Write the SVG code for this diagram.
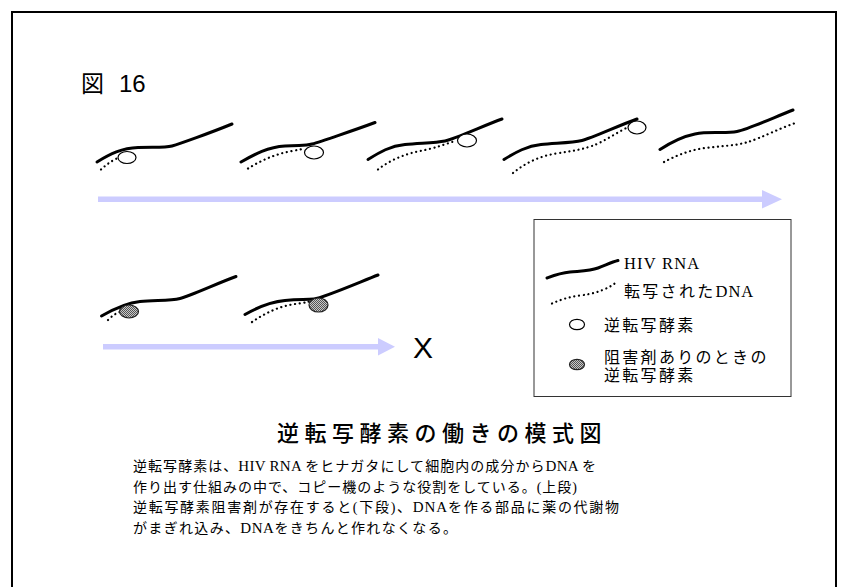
<svg xmlns="http://www.w3.org/2000/svg" width="848" height="587" viewBox="0 0 848 587">
  <defs>
    <!-- fine checker used for the inhibited enzyme -->
    <pattern id="checker" width="2" height="2" patternUnits="userSpaceOnUse">
      <rect width="2" height="2" fill="#c8c8c8"/>
      <rect width="1" height="1" fill="#555"/>
      <rect x="1" y="1" width="1" height="1" fill="#555"/>
    </pattern>
  </defs>
  <style>
    .rna { fill: none; stroke: #000; stroke-width: 3; stroke-linecap: round; }
    .dna { fill: none; stroke: #000; stroke-width: 2.2; stroke-dasharray: 0.1 4.6; stroke-linecap: round; }
    .enz { fill: #fff; stroke: #000; stroke-width: 1.2; }
    .inh { fill: url(#checker); stroke: #222; stroke-width: 1.2; }
    .flow { fill: #ccccff; }
    .jp { font-family: "Liberation Serif", "Noto Sans CJK JP", serif; font-size: 16px; letter-spacing: 2.3px; fill: #000; }
    .lat { font-size: 16.5px; letter-spacing: 1px; }
    .body { font-family: "Liberation Serif", "Noto Sans CJK JP", serif; font-size: 14px; letter-spacing: 1px; fill: #000; }
    .body .lat { font-size: 15px; letter-spacing: 0.2px; }
    .title { font-family: "Noto Sans CJK JP", sans-serif; font-size: 22px; letter-spacing: 5.5px; font-weight: 500; fill: #000; }
    .sans { font-family: "Liberation Sans", "Noto Sans CJK JP", sans-serif; fill: #000; }
  </style>

  <rect width="848" height="587" fill="#fff"/>
  <!-- page frame -->
  <path d="M12,600 V12 H836 V600" fill="none" stroke="#000" stroke-width="2"/>

  <!-- figure number -->
  <text x="81" y="92" class="sans" style="font-size:23px">図</text>
  <text x="119" y="92" class="sans" style="font-size:24px">16</text>

  <!-- upper row: normal reverse transcription, stage by stage -->
  <g id="stage1">
    <path class="dna" d="M101,169.5 C106,165 111,161 118,158"/>
    <path class="rna" d="M97,162 C110,154 122,148 138,147.5 S165,148 172,146 S210,133 232,124"/>
    <ellipse class="enz" cx="127" cy="157.5" rx="9" ry="6"/>
  </g>
  <g id="stage2">
    <path class="dna" d="M248,168.5 C260,161 275,154 292,151 S300,149 305,148"/>
    <path class="rna" d="M241,162 C255,154 268,147 285,146 S305,146 312,144 S355,130 375,122.5"/>
    <ellipse class="enz" cx="314" cy="152.5" rx="9.5" ry="6.5"/>
  </g>
  <g id="stage3">
    <path class="dna" d="M378,169.5 C390,160 405,154 420,151 S440,146 455,141"/>
    <path class="rna" d="M368,159.5 C380,152 390,146 405,144.5 S435,143 445,141 S485,125 502,119"/>
    <ellipse class="enz" cx="467" cy="140.5" rx="9.5" ry="6.5"/>
  </g>
  <g id="stage4">
    <path class="dna" d="M513,173 C525,163 540,156 556,153.5 S580,150 592,146 S620,130 633,125"/>
    <path class="rna" d="M504,159.5 C516,152 527,146 541,144.5 S572,143 582,140.5 S620,125 637,119"/>
    <ellipse class="enz" cx="637" cy="127.5" rx="9" ry="6.5"/>
  </g>
  <g id="stage5">
    <path class="dna" d="M664,162 C675,156 690,150 705,148 S735,146 748,142 S780,128 797,122.5"/>
    <path class="rna" d="M660,149.5 C670,143 680,137 695,134 S725,134 737,131.5 S775,117 793,110"/>
  </g>

  <!-- lower row: with inhibitor -->
  <g id="inhibited1">
    <path class="dna" d="M108,320 C112,316 116,313 121,311.5"/>
    <path class="rna" d="M101.5,316 C112,310 125,303 140,301.5 S170,301 180,298.5 S218,283 236,276.5"/>
    <ellipse class="inh" cx="129" cy="311.5" rx="9.5" ry="6.5"/>
  </g>
  <g id="inhibited2">
    <path class="dna" d="M252,322 C265,313 280,306 295,304 S305,302 310,301.5"/>
    <path class="rna" d="M245,314.5 C258,307 270,302 285,300.5 S305,300 314,299 S360,282 378,275"/>
    <ellipse class="inh" cx="318.5" cy="305" rx="9.5" ry="7"/>
  </g>

  <!-- progress arrows -->
  <g id="connectors">
    <rect class="flow" x="98" y="196.5" width="665" height="5.5"/>
    <polygon class="flow" points="762,190 782,199.2 762,208.5"/>
    <rect class="flow" x="103" y="344" width="276" height="5.5"/>
    <polygon class="flow" points="378,338 395,346.8 378,355.5"/>
  </g>
  <text x="413" y="358" class="sans" style="font-size:30px">X</text>

  <!-- legend -->
  <g id="legend">
    <rect x="534" y="219.5" width="257" height="177" fill="#fff" stroke="#333" stroke-width="1"/>
    <path class="rna" d="M547,278 C555,275 560,273 570,272 S590,271 598,268 S612,262 618,260.5"/>
    <text x="624" y="268.5" class="jp"><tspan class="lat" style="letter-spacing:1.2px">HIV RNA</tspan></text>
    <path class="dna" d="M552,303.5 C560,300 568,297 580,295.5 S598,292 605,289 S613,284 616,283"/>
    <text x="624" y="297" class="jp">転写された<tspan class="lat">DNA</tspan></text>
    <ellipse class="enz" cx="577" cy="324.5" rx="7.5" ry="5.2"/>
    <text x="604" y="331" class="jp">逆転写酵素</text>
    <ellipse class="inh" cx="577" cy="364.5" rx="7.5" ry="5.2"/>
    <text x="604" y="362.5" class="jp">阻害剤ありのときの</text>
    <text x="604" y="381" class="jp">逆転写酵素</text>
  </g>

  <!-- caption -->
  <text x="277" y="441" class="title">逆転写酵素の働きの模式図</text>
  <text x="133" y="471" class="body" textLength="464" lengthAdjust="spacing">逆転写酵素は、<tspan class="lat">HIV RNA </tspan>をヒナガタにして細胞内の成分から<tspan class="lat">DNA </tspan>を</text>
  <text x="133" y="491.5" class="body" textLength="445" lengthAdjust="spacing">作り出す仕組みの中で、コピー機のような役割をしている。(上段)</text>
  <text x="133" y="512" class="body" textLength="487" lengthAdjust="spacing">逆転写酵素阻害剤が存在すると(下段)、<tspan class="lat">DNA</tspan>を作る部品に薬の代謝物</text>
  <text x="133" y="532.5" class="body" textLength="325" lengthAdjust="spacing">がまぎれ込み、<tspan class="lat">DNA</tspan>をきちんと作れなくなる。</text>
</svg>
